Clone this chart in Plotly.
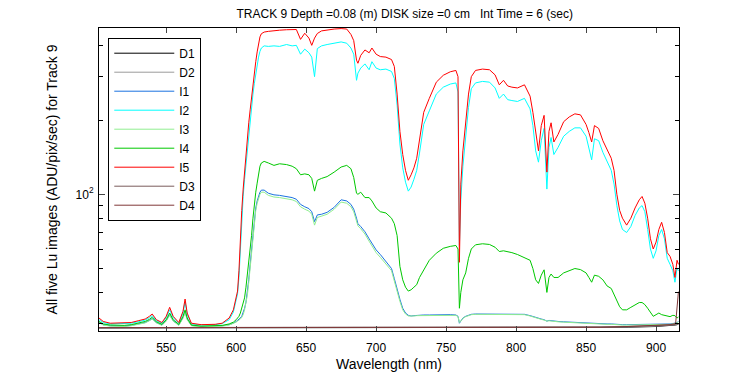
import plotly.graph_objects as go

# ---------------- data ----------------
wavelength = [
    502, 505, 510, 515, 520, 525, 530, 535, 538, 540,
    543, 547, 550, 552.5, 555, 559, 562, 563.5, 565, 568,
    575, 585, 590, 595, 598, 600, 601, 602, 603, 604,
    605, 606, 607, 608, 609, 610, 611, 612, 613, 614,
    615, 616, 617, 618, 620, 623, 627, 631, 636, 640,
    643, 646, 649, 652, 654, 656, 658, 661, 665, 670,
    675, 679, 682, 684, 686, 687, 689, 692, 695, 697,
    700, 703, 707, 711, 713, 715, 717, 719, 721, 723,
    725, 727, 729, 731, 734, 738, 743, 748, 753, 757,
    758.5, 759.5, 760.5, 762, 764, 766, 768, 771, 776, 781,
    785, 788, 791, 794, 797, 801, 806, 810, 812, 814,
    816, 818, 820, 822, 823.5, 825, 827, 830, 834, 838,
    842, 846, 850, 852, 854, 856, 859, 862, 865, 868,
    870, 872, 874, 876, 879, 882, 885, 888, 890, 892,
    894, 896, 898, 900, 902, 904, 906, 908, 910, 912,
    913.5, 915, 916,
]

I5 = [
    31.5, 30.5, 30, 30, 30, 30.2, 30.7, 31.2, 32, 32.7,
    31, 30.2, 32, 34.8, 32, 30.2, 33.5, 37.6, 33, 30,
    29.6, 29.7, 30, 31.5, 34, 38, 40.5, 49, 67, 86,
    105, 125, 145, 165, 195, 220, 250, 280, 310, 345,
    378, 405, 435, 448, 455, 458, 462, 463, 465, 467,
    466, 425, 450, 430, 402, 430, 449, 460, 465, 468,
    470, 468, 445, 420, 350, 340, 366, 385, 375, 392,
    370, 362, 360, 352, 330, 255, 180, 145, 125, 114,
    120, 128, 140, 165, 215, 245, 285, 304, 314, 318,
    300, 53, 110, 150, 190, 255, 300, 318, 322, 320,
    305, 278, 290, 275, 272, 270, 278, 250, 215, 175,
    150, 190, 209, 123, 180, 195, 163, 175, 197, 206,
    212, 210, 192, 178, 163, 190, 185, 165, 152, 140,
    125, 100, 86, 80, 75, 80, 88, 95, 98, 92,
    80, 66, 60, 64, 72, 77, 70, 58, 56, 52,
    46, 54, 52,
]

I2 = [
    31, 30.2, 29.8, 29.8, 29.8, 30, 30.4, 30.9, 31.6, 32.2,
    30.7, 30, 31.6, 34, 31.6, 30, 33, 36.5, 32.6, 29.8,
    29.5, 29.6, 29.9, 31, 33.3, 37, 39.5, 46, 62, 80,
    98, 115, 133, 150, 177, 200, 228, 255, 282, 310,
    340, 360, 380, 392, 400, 398, 400, 398, 405, 400,
    402, 370, 388, 375, 360, 300, 390, 400, 405, 410,
    415, 410, 392, 370, 290, 310, 325, 338, 320, 345,
    325, 320, 322, 315, 295, 230, 160, 128, 112, 103,
    107, 115, 125, 147, 192, 218, 255, 272, 280, 283,
    260, 62, 95, 130, 170, 225, 268, 283, 287, 285,
    270, 245, 255, 242, 240, 238, 245, 222, 190, 150,
    135, 165, 185, 105, 155, 170, 145, 155, 172, 180,
    186, 186, 172, 155, 138, 168, 165, 148, 135, 125,
    110, 90, 78, 72, 70, 74, 82, 88, 90, 85,
    72, 60, 55, 59, 68, 72, 66, 55, 52, 49,
    44, 50, 49,
]

I4 = [
    30.5, 29.8, 29.5, 29.4, 29.4, 29.6, 30, 30.5, 31.1, 31.7,
    30.4, 29.7, 31, 33, 31, 29.7, 32, 34, 31.5, 29.5,
    29.2, 29.3, 29.4, 29.8, 30.3, 31, 31.5, 32, 33, 34.5,
    36.5, 38, 42, 47, 52.5, 60, 68, 80, 92, 102,
    111, 120, 130, 134, 136, 134, 131, 133, 132, 130,
    127, 120, 121, 120, 116, 103, 114, 116, 118, 123,
    129, 131, 127, 117, 101, 100, 102, 97, 97, 94,
    88, 85, 84, 80, 76, 68, 51, 45, 42, 40.5,
    41, 42, 43, 46, 49.5, 54, 57.7, 60.4, 61.5, 62,
    60, 34.5, 40, 45, 48, 55, 60, 62.4, 63, 62.6,
    61, 58.6, 59, 58.6, 58, 57, 55.5, 54, 50, 45,
    43.5, 47, 49.4, 40, 46, 47.5, 46, 46, 48, 49,
    50, 49.5, 48, 46, 44, 47, 46.5, 45, 42.5, 41.5,
    39, 37, 35, 34, 34, 34.8, 35.5, 36.4, 36.4, 35.7,
    34.5, 33, 32, 32.5, 33, 32.5, 32.3, 32, 31.9, 32.3,
    32.2, 31.5, 31.8,
]

I1 = [
    30.3, 29.6, 29.3, 29.2, 29.2, 29.4, 29.8, 30.2, 30.8, 31.3,
    30.2, 29.5, 30.7, 32.5, 30.7, 29.5, 31.6, 33.5, 31.2, 29.4,
    29.1, 29.2, 29.3, 29.6, 30, 30.5, 30.8, 31, 31.5, 32,
    33, 34.5, 36.5, 40, 45, 52, 60, 70, 80, 88,
    94, 98, 102, 104, 104, 101, 99.5, 99, 98, 97,
    95.5, 91, 89, 87.5, 85, 77.5, 82.5, 83, 84.5, 88.5,
    95, 94, 91, 87, 80, 76, 74, 70.5, 66, 63,
    59.5, 57, 53.5, 50, 45.5, 41, 37.5, 34.5, 33, 32.3,
    32.1, 32.2, 32.3, 32.3, 32.4, 32.4, 32.5, 32.5, 32.5, 32.4,
    32, 30, 30.5, 31.5, 32, 32.4, 32.6, 32.7, 32.7, 32.7,
    32.6, 32.6, 32.6, 32.7, 32.7, 32.7, 32.6, 32.2, 31.9, 31.6,
    31.4, 31.2, 31, 30.6, 30.8, 30.7, 30.6, 30.5, 30.4, 30.3,
    30.2, 30.1, 30.1, 30, 30, 30, 29.9, 29.9, 29.8, 29.8,
    29.7, 29.7, 29.7, 29.6, 29.6, 29.6, 29.6, 29.6, 29.6, 29.6,
    29.6, 29.6, 29.7, 29.7, 29.7, 29.7, 29.8, 29.8, 29.8, 29.9,
    30, 30.2, 30.5,
]

I3 = [
    30.2, 29.5, 29.2, 29.1, 29.1, 29.3, 29.7, 30.1, 30.7, 31.2,
    30.1, 29.4, 30.6, 32.3, 30.6, 29.4, 31.4, 33.2, 31, 29.3,
    29, 29.1, 29.2, 29.5, 29.9, 30.3, 30.6, 30.8, 31.2, 31.7,
    32.5, 34, 36, 39, 44, 51, 58.5, 68, 78, 86,
    92, 96.5, 100, 102, 102, 99, 97.5, 97, 96, 95,
    93.5, 89, 87, 85.5, 83, 75, 80.5, 81.5, 83, 87,
    93, 92, 89, 85, 78, 74.5, 72.5, 69, 64.5, 61.5,
    58, 55.5, 52, 49, 44.5, 40, 36.8, 34, 32.7, 32.1,
    32, 32.1, 32.2, 32.2, 32.3, 32.3, 32.4, 32.4, 32.4, 32.3,
    31.9, 30.2, 30.6, 31.4, 31.9, 32.3, 32.5, 32.6, 32.6, 32.6,
    32.5, 32.5, 32.5, 32.6, 32.6, 32.6, 32.5, 32.1, 31.8, 31.5,
    31.3, 31.1, 30.9, 30.6, 30.7, 30.6, 30.5, 30.4, 30.3, 30.2,
    30.1, 30, 30, 29.9, 29.9, 29.9, 29.8, 29.8, 29.7, 29.7,
    29.6, 29.6, 29.6, 29.5, 29.5, 29.5, 29.5, 29.5, 29.5, 29.5,
    29.5, 29.5, 29.6, 29.6, 29.6, 29.6, 29.7, 29.7, 29.7, 29.8,
    29.9, 30.1, 30.4,
]

wavelength_dark = [502, 530, 560, 590, 620, 650, 680, 710, 740, 770,
                   800, 830, 860, 880, 900, 910, 914, 916]
D1 = [28.7, 28.7, 28.7, 28.7, 28.7, 28.7, 28.7, 28.7, 28.7, 28.7,
      28.7, 28.7, 28.8, 28.9, 29.1, 29.3, 29.5, 29.7]
D2 = [28.8, 28.8, 28.8, 28.8, 28.8, 28.8, 28.8, 28.8, 28.8, 28.8,
      28.8, 28.8, 28.9, 29.0, 29.2, 29.4, 29.6, 29.8]
D3 = [28.8, 28.8, 28.8, 28.8, 28.8, 28.8, 28.8, 28.8, 28.8, 28.8,
      28.8, 28.8, 28.9, 29.1, 29.3, 29.5, 29.7, 29.9]
D4 = [28.8, 28.8, 28.8, 28.8, 28.8, 28.8, 28.8, 28.8, 28.8, 28.8,
      28.8, 28.8, 28.9, 29.1, 29.4, 29.6, 29.9, 40.3]

x_ticks = [550, 600, 650, 700, 750, 800, 850, 900]
y_major = [100]
y_major_text = ["10<sup>2</sup>"]
y_minor = [30, 40, 50, 60, 70, 80, 90, 200, 300, 400]

# ---------------- figure ----------------
series = [
    ("D1", wavelength_dark, D1, "#000000"),
    ("D2", wavelength_dark, D2, "#9a9a9a"),
    ("I1", wavelength, I1, "#1a72e0"),
    ("I2", wavelength, I2, "#00ffff"),
    ("I3", wavelength, I3, "#90ee90"),
    ("I4", wavelength, I4, "#00c800"),
    ("I5", wavelength, I5, "#ff0000"),
    ("D3", wavelength_dark, D3, "#7a5c5c"),
    ("D4", wavelength_dark, D4, "#803838"),
]

fig = go.Figure()
for name, xs, ys, col in series:
    fig.add_trace(go.Scatter(x=xs, y=ys, mode="lines", name=name,
                             line=dict(color=col, width=1)))

font = dict(family="Liberation Sans, Arial, sans-serif", size=12, color="#000000")

# the page body adds an 8px offset, so margins are shifted to compensate
fig.update_layout(
    width=750, height=375,
    margin=dict(l=91, r=79, t=20, b=52, autoexpand=False),
    paper_bgcolor="white", plot_bgcolor="white",
    font=font,
    title=dict(text="TRACK 9 Depth =0.08 (m) DISK size =0 cm   Int Time = 6 (sec)",
               x=0.529, xanchor="center", y=0.984, yanchor="middle",
               font=dict(size=12)),
    showlegend=True,
    legend=dict(x=0.016, y=0.968, xanchor="left", yanchor="top",
                bgcolor="white", bordercolor="black", borderwidth=1,
                font=dict(size=12), itemwidth=60, tracegroupgap=0),
)
fig.update_xaxes(
    range=[502, 916.4], tickvals=x_ticks, ticks="inside", ticklen=5,
    ticklabelstandoff=6,
    showline=True, linecolor="black", linewidth=1, mirror="ticks",
    showgrid=False, zeroline=False, automargin=False,
    title=dict(text="Wavelength (nm)", standoff=4),
)
fig.update_yaxes(
    type="log", range=[1.4456, 2.6745],
    tickvals=y_major, ticktext=y_major_text, ticks="inside", ticklen=6,
    ticklabelstandoff=2,
    minor=dict(tickvals=y_minor, ticks="inside", ticklen=4, tickcolor="black", showgrid=False),
    showline=True, linecolor="black", linewidth=1, mirror="ticks",
    showgrid=False, zeroline=False, automargin=False,
    title=dict(text="All five Lu images (ADU/pix/sec) for Track 9", standoff=14),
)

fig.write_html("out.html")
